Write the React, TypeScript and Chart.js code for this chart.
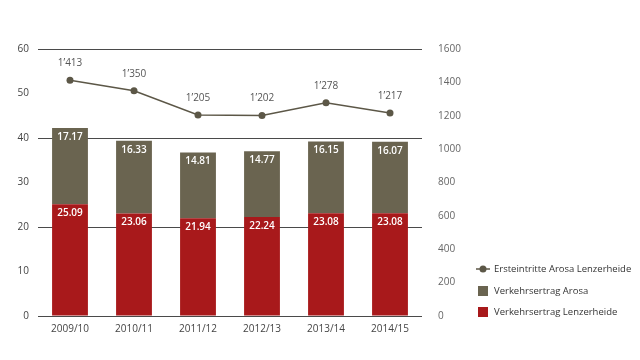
import React, { useEffect, useRef } from "react";
import { Chart, registerables } from "chart.js";

Chart.register(...registerables);

const categories = ["2009/10", "2010/11", "2011/12", "2012/13", "2013/14", "2014/15"];
const lenzerheide = [25.09, 23.06, 21.94, 22.24, 23.08, 23.08];
const arosa = [17.17, 16.33, 14.81, 14.77, 16.15, 16.07];
const ersteintritte = [1413, 1350, 1205, 1202, 1278, 1217];
const leftTicks = [0, 10, 20, 30, 40, 50, 60];
const rightTicks = [0, 200, 400, 600, 800, 1000, 1200, 1400, 1600];

const RED = "#a8191b";
const OLIVE = "#6a6450";
const LINE = "#5c5747";
const FONT = "'Open Sans', sans-serif";

const fmtThousands = (v: number) => {
  const s = String(v);
  return s.length > 3 ? s.slice(0, s.length - 3) + "\u2019" + s.slice(s.length - 3) : s;
};

const labelsPlugin = {
  id: "customLabels",
  afterDatasetsDraw(chart: any) {
    const ctx = chart.ctx;
    ctx.save();
    ctx.textAlign = "center";
    ctx.textBaseline = "middle";
    [0, 1].forEach((di) => {
      const meta = chart.getDatasetMeta(di);
      const data = chart.data.datasets[di].data as number[];
      meta.data.forEach((el: any, i: number) => {
        ctx.font = `600 10px ${FONT}`;
        ctx.fillStyle = "#ffffff";
        ctx.fillText(data[i].toFixed(2), el.x, el.y + 9);
      });
    });
    const lm = chart.getDatasetMeta(2);
    lm.data.forEach((el: any, i: number) => {
      ctx.font = `10px ${FONT}`;
      ctx.fillStyle = "#555555";
      ctx.fillText(fmtThousands(ersteintritte[i]), el.x, el.y - 17);
    });
    ctx.restore();
  },
  afterDraw(chart: any) {
    const ctx = chart.ctx;
    ctx.save();
    ctx.font = `9.5px ${FONT}`;
    ctx.textBaseline = "middle";
    ctx.textAlign = "left";
    const x0 = 476;
    const items = [
      { label: "Ersteintritte Arosa Lenzerheide", type: "line", color: LINE, y: 269 },
      { label: "Verkehrsertrag Arosa", type: "box", color: OLIVE, y: 291 },
      { label: "Verkehrsertrag Lenzerheide", type: "box", color: RED, y: 312 },
    ];
    items.forEach((it) => {
      if (it.type === "line") {
        ctx.strokeStyle = it.color;
        ctx.lineWidth = 1.5;
        ctx.beginPath();
        ctx.moveTo(x0, it.y);
        ctx.lineTo(x0 + 14, it.y);
        ctx.stroke();
        ctx.fillStyle = it.color;
        ctx.beginPath();
        ctx.arc(x0 + 7, it.y, 3.5, 0, Math.PI * 2);
        ctx.fill();
      } else {
        ctx.fillStyle = it.color;
        ctx.fillRect(x0 + 2, it.y - 5, 10, 10);
      }
      ctx.fillStyle = "#333333";
      ctx.fillText(it.label, x0 + 18, it.y);
    });
    ctx.restore();
  },
};

export default function App() {
  const ref = useRef<HTMLCanvasElement | null>(null);
  useEffect(() => {
    if (!ref.current) return;
    const chart = new Chart(ref.current, {
      type: "bar",
      data: {
        labels: categories,
        datasets: [
          {
            type: "bar",
            label: "Verkehrsertrag Lenzerheide",
            data: lenzerheide,
            backgroundColor: RED,
            yAxisID: "y",
            stack: "s",
            order: 1,
            categoryPercentage: 1,
            barPercentage: 0.56,
          },
          {
            type: "bar",
            label: "Verkehrsertrag Arosa",
            data: arosa,
            backgroundColor: OLIVE,
            yAxisID: "y",
            stack: "s",
            order: 1,
            categoryPercentage: 1,
            barPercentage: 0.56,
          },
          {
            type: "line",
            label: "Ersteintritte Arosa Lenzerheide",
            data: ersteintritte,
            borderColor: LINE,
            backgroundColor: LINE,
            borderWidth: 1.5,
            pointRadius: 3.5,
            pointBackgroundColor: LINE,
            pointBorderWidth: 0,
            yAxisID: "y1",
            order: 0,
            tension: 0,
          } as any,
        ],
      },
      options: {
        animation: false,
        responsive: false,
        maintainAspectRatio: false,
        layout: { padding: { top: 49, right: 170, bottom: 18, left: 0 } },
        plugins: { legend: { display: false }, tooltip: { enabled: false } },
        scales: {
          x: {
            stacked: true,
            grid: { display: false, drawTicks: false },
            border: { display: false },
            ticks: { color: "#444", font: { family: FONT, size: 10 }, padding: 7 },
          },
          y: {
            stacked: true,
            position: "left",
            min: 0,
            max: 60,
            afterBuildTicks: (axis: any) => {
              axis.ticks = leftTicks.map((v) => ({ value: v }));
            },
            afterFit: (axis: any) => {
              axis.width = 38;
            },
            grid: {
              drawTicks: false,
              color: (c: any) => (c.tick && c.tick.value % 20 === 0 ? "#4a4a4a" : "rgba(0,0,0,0)"),
              lineWidth: 1,
            },
            border: { display: false },
            ticks: { color: "#444", font: { family: FONT, size: 10 }, padding: 9 },
          },
          y1: {
            position: "right",
            min: 0,
            max: 1600,
            afterBuildTicks: (axis: any) => {
              axis.ticks = rightTicks.map((v) => ({ value: v }));
            },
            afterFit: (axis: any) => {
              axis.width = 48;
            },
            grid: { display: false, drawTicks: false },
            border: { display: false },
            ticks: {
              color: "#666",
              font: { family: FONT, size: 10 },
              padding: 16,
              callback: (v: any) => String(v),
            },
          },
        },
      },
      plugins: [labelsPlugin],
    });
    return () => chart.destroy();
  }, []);
  return (
    <div style={{ position: "absolute", left: 0, top: 0, width: 640, height: 360, background: "#fff" }}>
      <canvas ref={ref} width={640} height={360} style={{ width: 640, height: 360 }} />
    </div>
  );
}
